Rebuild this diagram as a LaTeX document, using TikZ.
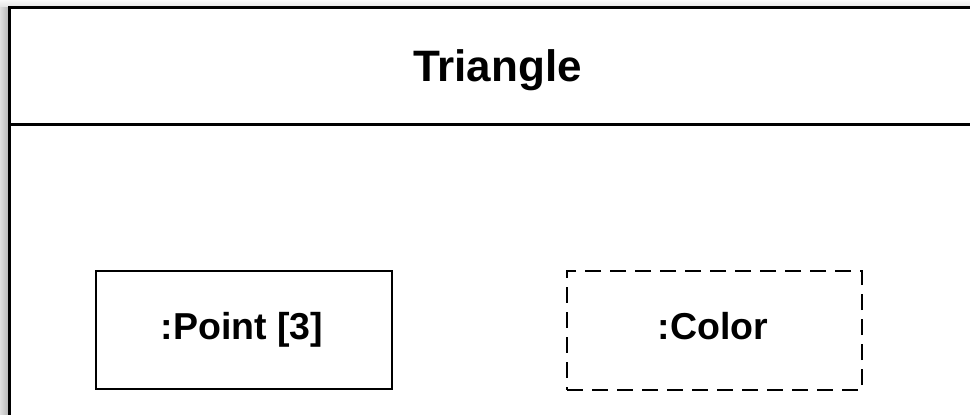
\documentclass[tikz,border=0pt]{standalone}
\usepackage{fontspec}
\setmainfont{Liberation Sans}
\begin{document}
\begin{tikzpicture}[x=1pt,y=-1pt,
  outerline/.style={line width=3pt,draw=black},
  objbox/.style={draw=black,line width=2pt,minimum width=296pt,minimum height=118pt,inner sep=0pt},
  objtext/.style={font=\fontsize{37.5}{40}\selectfont\bfseries,anchor=base,inner sep=0pt},
  titletext/.style={font=\fontsize{44}{48}\selectfont\bfseries,anchor=base,inner sep=0pt}]
\useasboundingbox (0,0) rectangle (970,415);
\begin{scope}
\clip (0,0) rectangle (970,415);
% shadow
\shade[left color=gray!25,right color=gray!55] (0,6) rectangle (8,415);
\shade[top color=gray!5,bottom color=gray!18] (0,0) rectangle (970,6);
% outer frame
\fill[white] (9.5,7.5) rectangle (975,420);
\draw[outerline] (9.5,420) -- (9.5,7.5) -- (975,7.5);
\draw[outerline] (9.5,124.5) -- (975,124.5);
\end{scope}
\node[titletext] (title) at (497.5,81) {Triangle};
\node[objbox] (point) at (244,330) {};
\node[objtext] (pointtext) at (242,339) {:Point [3]};
\node[objbox,dash pattern=on 16pt off 9pt,minimum width=295pt,minimum height=119pt] (color) at (714.5,330.5) {};
\node[objtext] (colortext) at (713,339) {:Color};
\end{tikzpicture}
\end{document}
